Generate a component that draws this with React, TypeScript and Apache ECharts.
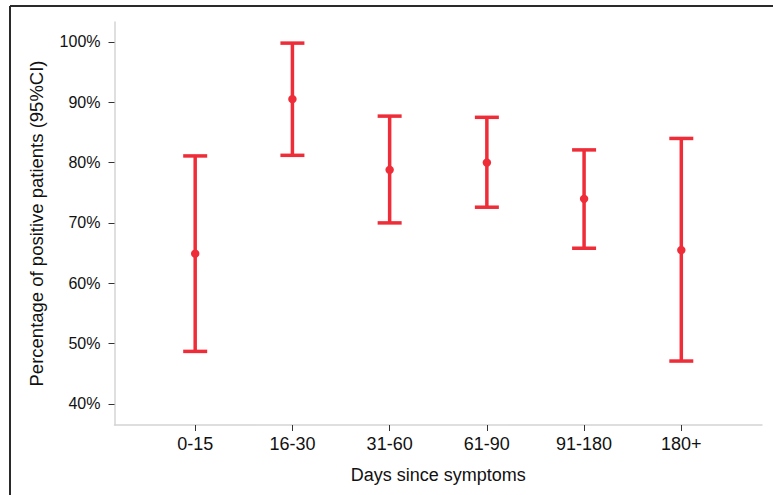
import React, { useEffect, useRef } from "react";
import * as echarts from "echarts";

const categories = ["0-15", "16-30", "31-60", "61-90", "91-180", "180+"];
const lowerCI = [48.7, 81.2, 70.0, 72.6, 65.8, 47.1];
const estimate = [64.9, 90.5, 78.8, 80.0, 74.0, 65.5];
const upperCI = [81.1, 99.8, 87.7, 87.5, 82.1, 84.0];
const yTicks = [40, 50, 60, 70, 80, 90, 100];

const RED = "#EE2D38";
const FONT = "'Liberation Sans', Arial, sans-serif";

export default function App() {
  const ref = useRef<HTMLDivElement>(null);

  useEffect(() => {
    document.body.style.margin = "0";
    if (!ref.current) return;
    const chart = echarts.init(ref.current, undefined, { renderer: "svg" });
    const data = categories.map((_, i) => [i, lowerCI[i], estimate[i], upperCI[i]]);
    const catIdx = categories.map((_, i) => i);

    chart.setOption({
      animation: false,
      backgroundColor: "#ffffff",
      grid: { left: 114.5, right: 11, top: 22, bottom: 70 },
      graphic: [
        { type: "line", shape: { x1: 10, y1: 6, x2: 773, y2: 6 }, style: { stroke: "#2a2a2a", lineWidth: 2 } },
        { type: "line", shape: { x1: 10, y1: 6, x2: 10, y2: 495 }, style: { stroke: "#2a2a2a", lineWidth: 2 } },
      ],
      xAxis: {
        type: "value",
        min: -0.83,
        max: 5.83,
        splitLine: { show: false },
        axisLine: { show: true, onZero: false, lineStyle: { color: "#d4d4d4", width: 1.5 } },
        axisTick: { show: true, customValues: catIdx, length: 6, lineStyle: { color: "#333", width: 1 } },
        axisLabel: {
          customValues: catIdx,
          formatter: (v: number) => categories[Math.round(v)] ?? "",
          color: "#111",
          fontSize: 18,
          fontFamily: FONT,
          margin: 10,
        },
        name: "Days since symptoms",
        nameLocation: "middle",
        nameGap: 41,
        nameTextStyle: { color: "#111", fontSize: 18, fontFamily: FONT },
      },
      yAxis: {
        type: "value",
        min: 36.5,
        max: 103.3,
        splitLine: { show: false },
        axisLine: { show: true, onZero: false, lineStyle: { color: "#d4d4d4", width: 1.5 } },
        axisTick: { show: true, customValues: yTicks, length: 6, lineStyle: { color: "#333", width: 1 } },
        axisLabel: {
          customValues: yTicks,
          formatter: (v: number) => `${v}%`,
          color: "#111",
          fontSize: 16,
          fontFamily: FONT,
          margin: 14,
        },
        name: "Percentage of positive patients (95%CI)",
        nameLocation: "middle",
        nameGap: 69,
        nameTextStyle: { color: "#111", fontSize: 18.5, fontFamily: FONT },
      },
      series: [
        {
          type: "custom",
          data,
          encode: { x: 0, y: [1, 2, 3] },
          renderItem: (params: any, api: any) => {
            const x = api.value(0);
            const lo = api.coord([x, api.value(1)]);
            const mid = api.coord([x, api.value(2)]);
            const hi = api.coord([x, api.value(3)]);
            const half = 12;
            const style = { stroke: RED, lineWidth: 3.5, fill: "none" };
            return {
              type: "group",
              children: [
                { type: "line", shape: { x1: hi[0], y1: hi[1], x2: lo[0], y2: lo[1] }, style },
                { type: "line", shape: { x1: hi[0] - half, y1: hi[1], x2: hi[0] + half, y2: hi[1] }, style },
                { type: "line", shape: { x1: lo[0] - half, y1: lo[1], x2: lo[0] + half, y2: lo[1] }, style },
                { type: "circle", shape: { cx: mid[0], cy: mid[1], r: 4.2 }, style: { fill: RED } },
              ],
            };
          },
        },
      ],
    });

    return () => chart.dispose();
  }, []);

  return <div ref={ref} style={{ width: 773, height: 495 }} />;
}
